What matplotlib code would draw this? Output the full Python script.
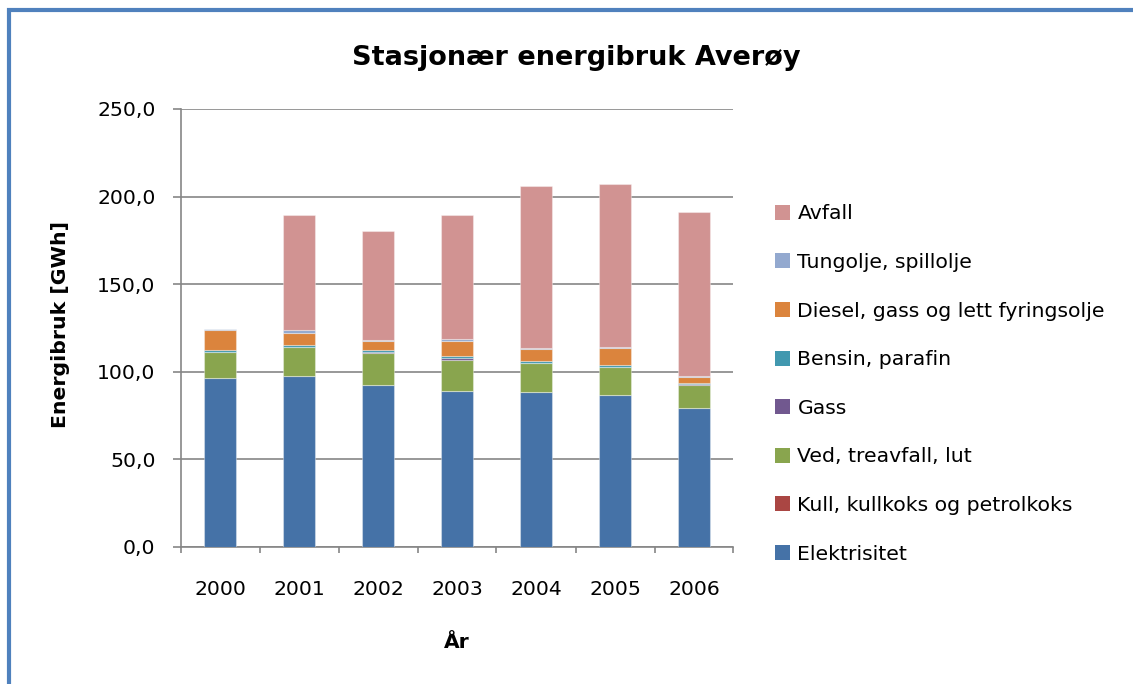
import matplotlib
matplotlib.use("Agg")
import matplotlib.pyplot as plt
import numpy as np
from matplotlib.patches import Rectangle, Patch

years = ["2000", "2001", "2002", "2003", "2004", "2005", "2006"]
series_names = ["Elektrisitet", "Kull, kullkoks og petrolkoks", "Ved, treavfall, lut",
                "Gass", "Bensin, parafin", "Diesel, gass og lett fyringsolje",
                "Tungolje, spillolje", "Avfall"]
elektrisitet = [96.6, 97.7, 92.4, 89.0, 88.4, 86.5, 79.6]
kull = [0.0, 0.0, 0.0, 0.0, 0.0, 0.0, 0.0]
ved = [14.5, 16.2, 18.1, 17.7, 16.4, 16.2, 12.7]
gass = [0.3, 0.2, 0.9, 0.9, 0.3, 0.2, 0.9]
bensin = [1.0, 1.0, 1.3, 1.3, 0.8, 1.0, 0.2]
diesel = [11.6, 6.9, 4.8, 8.8, 7.0, 9.9, 3.8]
tungolje = [0.5, 1.9, 0.4, 0.9, 0.4, 0.4, 0.5]
avfall = [0.0, 65.7, 62.7, 71.0, 92.6, 93.1, 93.3]
colors = ["#4572A7", "#AA4643", "#89A54E", "#71588F", "#4198AF", "#DB843D", "#93A9CF", "#D19392"]

yticks = [0, 50, 100, 150, 200, 250]
ytick_labels = ["0,0", "50,0", "100,0", "150,0", "200,0", "250,0"]

plt.rcParams['font.family'] = ['DejaVu Sans']

fig = plt.figure(figsize=(11.33, 6.84), dpi=100)
W, H = 1133, 684
FS = 14.7

# blue frame
fig.patches.append(Rectangle((9 / W, -0.1), 1.2, (1 - 10.5 / H) + 0.1, transform=fig.transFigure,
                             fill=False, edgecolor="#4F81BD", linewidth=3.0, zorder=0))

ax = fig.add_axes([180.5 / W, (H - 547) / H, 553 / W, 438 / H])

data = [elektrisitet, kull, ved, gass, bensin, diesel, tungolje, avfall]
x = np.arange(len(years))
bottom = np.zeros(len(years))
for name, vals, c in zip(series_names, data, colors):
    vals = np.array(vals)
    ax.bar(x, vals, width=0.4, bottom=bottom, color=c, edgecolor=(1, 1, 1, 0.35),
           linewidth=0.8, label=name, zorder=3)
    bottom += vals

ax.set_xlim(-0.5, len(years) - 0.5)
ax.set_ylim(0, 250)
ax.set_yticks(yticks)
ax.set_yticklabels(ytick_labels)
ax.set_xticks(x)
ax.set_xticklabels(years)
ax.set_xticks(np.arange(-0.5, len(years), 1.0), minor=True)

ax.grid(axis='y', color="#868686", linewidth=1.2, zorder=0)
for s in ["top", "right"]:
    ax.spines[s].set_visible(False)
for s in ["left", "bottom"]:
    ax.spines[s].set_color("#868686")
    ax.spines[s].set_linewidth(1.2)
ax.tick_params(axis='y', length=6, width=1.2, color="#868686", labelsize=FS, pad=12)
ax.tick_params(axis='x', which='major', length=0, labelsize=FS, pad=24)
ax.tick_params(axis='x', which='minor', length=4, width=1.2, color="#868686")
ax.set_axisbelow(True)

fig.text(61 / W, 1 - 325 / H, "Energibruk [GWh]", fontsize=FS, fontweight='bold',
         rotation=90, ha='center', va='center')
fig.text(457 / W, 1 - 642 / H, "År", fontsize=FS, fontweight='bold', ha='center', va='center')
fig.text(576 / W, 1 - 58 / H, "Stasjonær energibruk Averøy", fontsize=19.5, fontweight='bold',
         ha='center', va='center')

handles = [Patch(facecolor=c, edgecolor='none') for c in colors][::-1]
labels = series_names[::-1]
fig.legend(handles, labels, loc='center left', bbox_to_anchor=(775 / W, 1 - 384 / H),
           frameon=False, fontsize=FS, handlelength=0.75, handleheight=0.75,
           handletextpad=0.35, labelspacing=1.45, borderpad=0, borderaxespad=0)

fig.savefig("out.png", dpi=100)
